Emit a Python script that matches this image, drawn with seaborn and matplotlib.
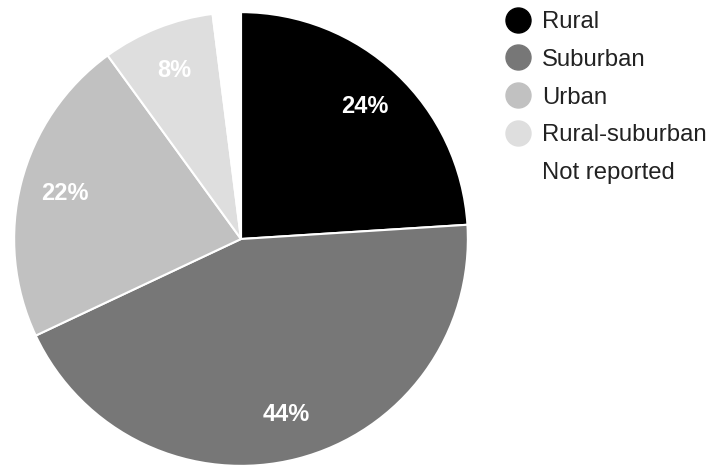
import matplotlib
matplotlib.use("Agg")
import matplotlib.pyplot as plt
from matplotlib.lines import Line2D
import seaborn as sns

categories = ["Rural", "Suburban", "Urban", "Rural-suburban", "Not reported"]
shares = [24, 44, 22, 8, 2]
colors = ["#000000", "#777777", "#c1c1c1", "#dedede", "#ffffff"]

sns.set_theme(style="white")
plt.rcParams["font.family"] = ["Liberation Sans", "DejaVu Sans"]

fig = plt.figure(figsize=(7.10, 4.68), dpi=100)
ax = fig.add_axes([13 / 710, 1 / 468, 456 / 710, 456 / 468])

def pct_label(p):
    return f"{p:.0f}%" if p >= 3 else ""

wedges, texts, autotexts = ax.pie(
    shares,
    colors=colors,
    startangle=90,
    counterclock=False,
    autopct=pct_label,
    pctdistance=0.8,
    wedgeprops=dict(edgecolor="white", linewidth=1.5),
    textprops=dict(color="white", fontsize=17, fontweight="bold"),
)
ax.set_aspect("equal")
ax.set_xlim(-1.005, 1.005)
ax.set_ylim(-1.005, 1.005)
ax.axis("off")

handles = [
    Line2D([], [], marker="o", linestyle="none", markersize=18,
           markerfacecolor=c, markeredgecolor=c)
    for c in colors
]
leg = fig.legend(
    handles, categories,
    loc="upper left",
    bbox_to_anchor=(504 / 710, 1 - 11 / 468),
    frameon=False,
    fontsize=17.2,
    labelspacing=0.66,
    handlelength=1.2,
    handletextpad=0.38,
    borderaxespad=0,
    borderpad=0,
)
for t in leg.get_texts():
    t.set_color("#222222")

fig.savefig("out.png", dpi=100, facecolor="white")
